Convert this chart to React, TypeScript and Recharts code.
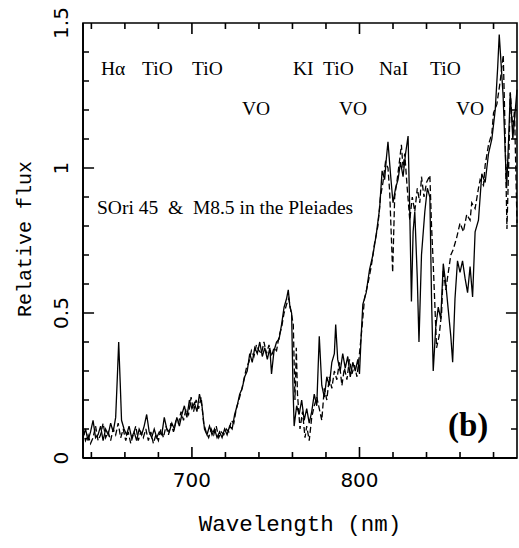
import React from "react";
import { LineChart, Line, XAxis, YAxis } from "recharts";

// M8.5 Pleiades spectrum (dashed line): [wavelength nm, relative flux]
const PLEIADES_M85: Array<[number, number]> = [
  [635, 0.1], [636.5, 0.06], [638, 0.08], [639.5, 0.05], [641, 0.07], [642.5, 0.11],
  [644, 0.06], [645.5, 0.08], [647, 0.12], [648.5, 0.07], [650, 0.09], [651.5, 0.06],
  [653, 0.1], [654.5, 0.08], [656, 0.12], [657.5, 0.07], [659, 0.1], [660.5, 0.06],
  [662, 0.09], [663.5, 0.05], [665, 0.08], [666.5, 0.11], [668, 0.06], [669.5, 0.09],
  [671, 0.07], [672.5, 0.1], [674, 0.06], [675.5, 0.09], [677, 0.05], [678.5, 0.08],
  [680, 0.06], [681.5, 0.1], [683, 0.07], [684.5, 0.11], [686, 0.08], [687.5, 0.12],
  [689, 0.09], [690.5, 0.13], [692, 0.12], [693.5, 0.16], [695, 0.13], [696.5, 0.17],
  [698, 0.15], [699.5, 0.21], [701, 0.16], [702.5, 0.2], [704, 0.17], [705.5, 0.21],
  [707, 0.12], [708.5, 0.09], [710, 0.07], [711.5, 0.1], [713, 0.08], [714.5, 0.11],
  [716, 0.07], [717.5, 0.09], [719, 0.08], [720.5, 0.1], [722, 0.09], [723.5, 0.13],
  [725, 0.12], [726.5, 0.17], [728, 0.2], [729.5, 0.23], [731, 0.27], [732.5, 0.31],
  [734, 0.33], [735.5, 0.37], [737, 0.35], [738.5, 0.39], [740, 0.37], [741.5, 0.36],
  [743, 0.4], [744.5, 0.36], [746, 0.39], [747.5, 0.35], [749, 0.38], [750.5, 0.37],
  [752, 0.42], [753.5, 0.45], [755, 0.5], [756.5, 0.53], [757.8, 0.55], [759, 0.51],
  [760.5, 0.46], [761.5, 0.2], [762.3, 0.38], [763, 0.22], [764.5, 0.1], [766, 0.16],
  [767.5, 0.07], [768.5, 0.11], [770, 0.06], [771.5, 0.14], [773, 0.18], [774.5, 0.21],
  [776, 0.17], [777.5, 0.13], [779, 0.24], [780.5, 0.2], [782, 0.28], [783.5, 0.24],
  [785, 0.3], [786.5, 0.27], [788, 0.33], [789.5, 0.25], [791, 0.31], [792.5, 0.27],
  [794, 0.34], [795.5, 0.29], [797, 0.32], [798.5, 0.28], [800, 0.36], [801.5, 0.45],
  [803, 0.55], [805, 0.6], [807, 0.66], [809, 0.74], [811, 0.8], [812.5, 0.9],
  [814, 0.95], [815.5, 1.02], [817, 1.0], [818, 0.92], [819.8, 0.64], [821, 0.9],
  [822.5, 0.96], [824, 1.03], [825, 1.08], [826, 1.0], [827, 1.05], [828.5, 0.93],
  [830, 0.82], [831.5, 0.9], [833, 0.85], [834.5, 0.93], [836, 0.88], [837, 0.97],
  [838.5, 0.9], [840, 0.95], [842, 0.975], [843, 0.8], [844, 0.67], [846, 0.38],
  [847.5, 0.42], [849, 0.5], [850, 0.65], [851.5, 0.58], [853, 0.64], [854.5, 0.7],
  [856, 0.72], [858, 0.76], [860, 0.81], [862, 0.78], [864, 0.84], [866, 0.82],
  [867, 0.88], [869, 0.86], [871, 0.93], [872, 0.96], [874, 0.94], [875, 1.01],
  [877, 1.08], [879, 1.12], [880, 1.19], [882, 1.22], [884, 1.3], [885.8, 1.39],
  [886.8, 1.15], [888, 0.79], [889, 1.0], [890, 1.26], [891.5, 1.13], [892.5, 1.2],
  [894, 0.81],
];

// SOri 45 spectrum (solid line)
const SORI45: Array<[number, number]> = [
  [635, 0.07], [636.5, 0.1], [638, 0.06], [639.5, 0.09], [641, 0.13], [642.5, 0.07],
  [644, 0.08], [645.5, 0.11], [647, 0.06], [648.5, 0.1], [650, 0.08], [651.5, 0.12],
  [653, 0.09], [654.5, 0.14], [655.5, 0.28], [656.3, 0.4], [657.2, 0.26], [658, 0.13],
  [659.5, 0.1], [661, 0.08], [662.5, 0.11], [664, 0.07], [665.5, 0.09], [667, 0.06],
  [668.5, 0.1], [670, 0.08], [671.5, 0.11], [673, 0.15], [674.5, 0.09], [676, 0.07],
  [677.5, 0.1], [679, 0.07], [680.5, 0.09], [682, 0.08], [683.5, 0.14], [685, 0.1],
  [686.5, 0.09], [688, 0.12], [689.5, 0.1], [691, 0.14], [692.5, 0.11], [694, 0.15],
  [695.5, 0.18], [697, 0.14], [698.5, 0.2], [700, 0.17], [701.5, 0.19], [703, 0.16],
  [704.5, 0.22], [706, 0.18], [707.5, 0.1], [709, 0.08], [710.5, 0.11], [712, 0.08],
  [713.5, 0.1], [715, 0.07], [716.5, 0.09], [718, 0.07], [719.5, 0.1], [721, 0.08],
  [722.5, 0.11], [724, 0.1], [725.5, 0.15], [727, 0.18], [728.5, 0.22], [730, 0.24],
  [731.5, 0.28], [733, 0.3], [734.5, 0.36], [736, 0.33], [737.5, 0.38], [739, 0.36],
  [740.5, 0.4], [742, 0.35], [743.5, 0.38], [745, 0.34], [746.5, 0.38], [747.5, 0.29],
  [749, 0.37], [750.5, 0.4], [752, 0.41], [753.5, 0.46], [755, 0.52], [756.5, 0.55],
  [757.5, 0.58], [758.5, 0.52], [759.5, 0.5], [760.3, 0.25], [761, 0.11], [762.5, 0.18],
  [764, 0.15], [765.5, 0.2], [767, 0.13], [768.5, 0.17], [770, 0.12], [771.5, 0.16],
  [773, 0.22], [774.5, 0.18], [776, 0.42], [777.5, 0.25], [779, 0.21], [780.5, 0.28],
  [782, 0.25], [783.5, 0.33], [785, 0.36], [785.8, 0.46], [787, 0.34], [788.5, 0.3],
  [790, 0.36], [791.5, 0.31], [793, 0.35], [794.5, 0.28], [796, 0.33], [797.5, 0.3],
  [799, 0.34], [800, 0.29], [801, 0.42], [802, 0.53], [804, 0.57], [806, 0.65],
  [808, 0.7], [810, 0.77], [812, 0.86], [813.5, 0.99], [815, 0.96], [816, 1.03],
  [817, 1.09], [818.5, 0.98], [820, 0.88], [821.5, 0.93], [823, 0.96], [824.5, 1.02],
  [826, 0.97], [827.5, 1.05], [829, 1.11], [830, 0.85], [831, 0.54], [832, 0.78],
  [833, 0.85], [834.5, 0.62], [835.5, 0.4], [837, 0.7], [839, 0.85], [840.5, 0.93],
  [842, 0.9], [843, 0.55], [844, 0.3], [845.5, 0.45], [847, 0.52], [848.5, 0.48],
  [850, 0.67], [851.5, 0.6], [853, 0.51], [854.5, 0.42], [855.6, 0.33], [857, 0.55],
  [858.5, 0.68], [860, 0.64], [861.5, 0.68], [863, 0.62], [864.5, 0.57], [866, 0.66],
  [867.5, 0.555], [869, 0.78], [871, 0.82], [873, 0.98], [875, 0.95], [877, 1.05],
  [879, 1.1], [881, 1.2], [882.5, 1.35], [883.4, 1.46], [884.5, 1.36], [885.7, 1.25],
  [887, 1.05], [887.8, 0.93], [889, 1.1], [890, 1.26], [891.5, 1.1], [893, 1.2],
  [894, 1.27],
];

const X_TICKS = [640, 660, 680, 700, 720, 740, 760, 780, 800, 820, 840, 860, 880];
const X_LABELS = [700, 800];
const Y_TICKS = [0, 0.1, 0.2, 0.3, 0.4, 0.5, 0.6, 0.7, 0.8, 0.9, 1, 1.1, 1.2, 1.3, 1.4, 1.5];
const Y_LABELS = [0, 0.5, 1, 1.5];

const X_DOMAIN: [number, number] = [635, 894];
const Y_DOMAIN: [number, number] = [0, 1.5];

const toRows = (pts: Array<[number, number]>) => pts.map(([w, f]) => ({ w, f }));

const INK = "#000";
const SERIF = "'Liberation Serif', 'Times New Roman', serif";
const MONO = "'Liberation Mono', 'Courier New', monospace";
const SANS = "'DejaVu Sans', sans-serif";

// inward tick lengths in data units (about 11px major / 6px minor on this plot)
const X_TICK_LEN = { major: 6.6, minor: 3.6 }; // nm, for ticks on the left/right sides
const Y_TICK_LEN = { major: 0.038, minor: 0.021 }; // flux, for ticks on the top/bottom sides

// the box with its inward ticks, traced once around the plot through the axes' own scales
function frameRows() {
  const [x0, x1] = X_DOMAIN;
  const [y0, y1] = Y_DOMAIN;
  const rows: Array<{ w: number; f: number }> = [{ w: x0, f: y0 }];
  X_TICKS.forEach((v) => {
    const l = X_LABELS.includes(v) ? Y_TICK_LEN.major : Y_TICK_LEN.minor;
    rows.push({ w: v, f: y0 }, { w: v, f: y0 + l }, { w: v, f: y0 });
  });
  rows.push({ w: x1, f: y0 });
  Y_TICKS.forEach((v) => {
    const l = Y_LABELS.includes(v) ? X_TICK_LEN.major : X_TICK_LEN.minor;
    rows.push({ w: x1, f: v }, { w: x1 - l, f: v }, { w: x1, f: v });
  });
  rows.push({ w: x1, f: y1 });
  [...X_TICKS].reverse().forEach((v) => {
    const l = X_LABELS.includes(v) ? Y_TICK_LEN.major : Y_TICK_LEN.minor;
    rows.push({ w: v, f: y1 }, { w: v, f: y1 - l }, { w: v, f: y1 });
  });
  rows.push({ w: x0, f: y1 });
  [...Y_TICKS].reverse().forEach((v) => {
    const l = Y_LABELS.includes(v) ? X_TICK_LEN.major : X_TICK_LEN.minor;
    rows.push({ w: x0, f: v }, { w: x0 + l, f: v }, { w: x0, f: v });
  });
  rows.push({ w: x0, f: y0 });
  return rows;
}

const renderBottomLabel = (props: any) => {
  const { x, y, payload } = props;
  if (!X_LABELS.includes(payload.value)) return <g />;
  return (
    <text x={x} y={y + 22} textAnchor="middle" dominantBaseline="central" fontFamily={SANS} fontSize={20} fill={INK}>
      {payload.value}
    </text>
  );
};

const renderLeftLabel = (props: any) => {
  const { x, y, payload } = props;
  if (!Y_LABELS.includes(payload.value)) return <g />;
  const lx = x - 22;
  return (
    <text
      x={lx}
      y={y}
      transform={`rotate(-90, ${lx}, ${y})`}
      textAnchor="middle"
      dominantBaseline="central"
      fontFamily={SANS}
      fontSize={20}
      fill={INK}
    >
      {payload.value}
    </text>
  );
};

export default function App() {
  return (
    <div style={{ position: "absolute", left: 0, top: 0, background: "#fff" }}>
      <LineChart width={519} height={548} margin={{ top: 23, right: 2, bottom: 30, left: 0 }}>
        <XAxis
          type="number"
          dataKey="w"
          domain={X_DOMAIN}
          ticks={X_TICKS}
          interval={0}
          tickSize={0}
          tickMargin={0}
          tickLine={false}
          axisLine={{ stroke: INK, strokeWidth: 1.8 }}
          tick={renderBottomLabel}
          height={60}
        />
        <YAxis
          type="number"
          domain={Y_DOMAIN}
          ticks={Y_TICKS}
          interval={0}
          tickSize={0}
          tickMargin={0}
          tickLine={false}
          axisLine={{ stroke: INK, strokeWidth: 1.8 }}
          tick={renderLeftLabel}
          width={83}
        />
        <Line
          data={frameRows()}
          dataKey="f"
          type="linear"
          stroke={INK}
          strokeWidth={1.6}
          dot={false}
          activeDot={false}
          isAnimationActive={false}
        />
        <Line
          data={toRows(PLEIADES_M85)}
          dataKey="f"
          type="linear"
          stroke={INK}
          strokeWidth={1.3}
          strokeDasharray="6 3"
          dot={false}
          activeDot={false}
          isAnimationActive={false}
        />
        <Line
          data={toRows(SORI45)}
          dataKey="f"
          type="linear"
          stroke={INK}
          strokeWidth={1.3}
          dot={false}
          activeDot={false}
          isAnimationActive={false}
        />

        {/* band identifications */}
        <g fontFamily={SERIF} fontSize={19.5} fill={INK}>
          <text x={101} y={75}>Hα</text>
          <text x={142} y={75}>TiO</text>
          <text x={192} y={75}>TiO</text>
          <text x={293} y={75}>KI</text>
          <text x={323} y={75}>TiO</text>
          <text x={379} y={75}>NaI</text>
          <text x={430} y={75}>TiO</text>
          <text x={242} y={115}>VO</text>
          <text x={339} y={115}>VO</text>
          <text x={456} y={115}>VO</text>
          <text x={97} y={214} style={{ whiteSpace: "pre" }}>SOri 45  &amp;  M8.5 in the Pleiades</text>
        </g>
        <text x={448} y={436} fontFamily={SERIF} fontSize={33} fontWeight="bold" fill={INK}>(b)</text>

        <text x={300} y={525} textAnchor="middle" dominantBaseline="central" fontFamily={MONO} fontSize={22.5} fill={INK}>
          Wavelength (nm)
        </text>
        <text
          x={25}
          y={239}
          transform="rotate(-90, 25, 239)"
          textAnchor="middle"
          dominantBaseline="central"
          fontFamily={MONO}
          fontSize={20}
          fill={INK}
        >
          Relative flux
        </text>
      </LineChart>
    </div>
  );
}
